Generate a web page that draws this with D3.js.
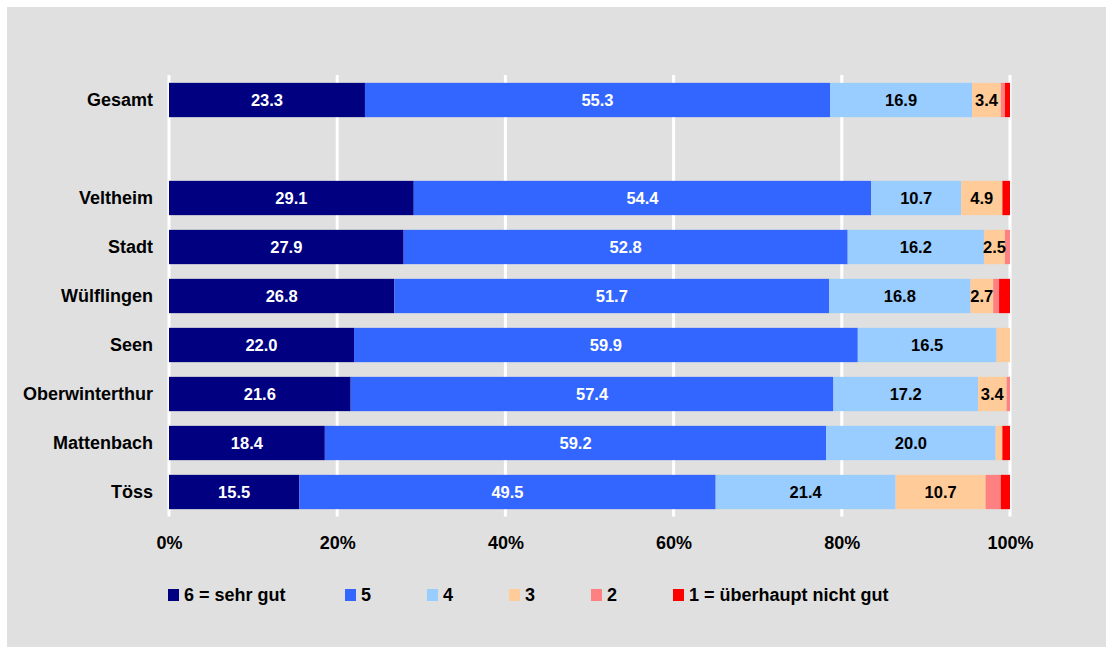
<!DOCTYPE html>
<html><head><meta charset="utf-8">
<script src="https://cdn.jsdelivr.net/npm/d3@7"></script>
<style>
html,body{margin:0;padding:0;background:#fff;}
svg{display:block;font-family:"Liberation Sans",Arial,sans-serif;font-weight:bold;}
</style></head>
<body>
<svg id="c" width="1106" height="647"></svg>
<script>
const categories = ["Gesamt", "", "Veltheim", "Stadt", "Wülflingen", "Seen", "Oberwinterthur", "Mattenbach", "Töss"];
const seriesNames = ["6 = sehr gut", "5", "4", "3", "2", "1 = überhaupt nicht gut"];
const colors = ["#000080", "#3366FF", "#99CCFF", "#FFCC99", "#FF8080", "#FF0000"];
const labelColors = ["#fff", "#fff", "#000", "#000", "#000", "#000"];
const s6 = [23.3, null, 29.1, 27.9, 26.8, 22.0, 21.6, 18.4, 15.5];
const s5 = [55.3, null, 54.4, 52.8, 51.7, 59.9, 57.4, 59.2, 49.5];
const s4 = [16.9, null, 10.7, 16.2, 16.8, 16.5, 17.2, 20.0, 21.4];
const s3 = [3.4, null, 4.9, 2.5, 2.7, 1.6, 3.4, 0.8, 10.7];
const s2 = [0.5, null, 0.0, 0.6, 0.7, 0.0, 0.4, 0.0, 1.8];
const s1 = [0.6, null, 0.9, 0.0, 1.3, 0.0, 0.0, 0.9, 1.1];
const tickValues = [0, 0.2, 0.4, 0.6, 0.8, 1.0];
const series = [s6, s5, s4, s3, s2, s1];

const svg = d3.select("#c");
svg.append("rect").attr("x", 7).attr("y", 7).attr("width", 1099).attr("height", 640).attr("fill", "#E0E0E0");

const x = d3.scaleLinear().domain([0, 1]).range([169, 1010]);
const y = d3.scaleBand().domain(categories).range([75.5, 516.5]).paddingInner(0.3).paddingOuter(0.15);

// gridlines
svg.append("g").selectAll("line").data(tickValues).join("line")
  .attr("x1", d => x(d)).attr("x2", d => x(d))
  .attr("y1", 75).attr("y2", 516.5)
  .attr("stroke", "#fff").attr("stroke-width", 3);

// stacked data (normalized to 100%)
const rows = categories.map((c, i) => {
  const vals = series.map(s => s[i]);
  if (vals[0] === null) return null;
  const total = d3.sum(vals);
  let acc = 0;
  return vals.map((v, k) => { const r = {cat: c, k, v, x0: acc / total, x1: (acc + v) / total}; acc += v; return r; });
}).filter(r => r);
const segs = rows.flat().filter(d => d.v > 0);

const g = svg.append("g");
g.selectAll("rect").data(segs).join("rect")
  .attr("x", d => x(d.x0)).attr("width", d => x(d.x1) - x(d.x0))
  .attr("y", d => y(d.cat)).attr("height", y.bandwidth())
  .attr("fill", d => colors[d.k]);

g.selectAll("text").data(segs.filter(d => d.v >= 2)).join("text")
  .attr("x", d => (x(d.x0) + x(d.x1)) / 2)
  .attr("y", d => y(d.cat) + y.bandwidth() / 2 + 6)
  .attr("text-anchor", "middle").attr("font-size", "16.5px")
  .attr("fill", d => labelColors[d.k])
  .text(d => d.v.toFixed(1));

// category labels
const yAxis = d3.axisLeft(y).tickSize(0).tickPadding(16);
const ya = svg.append("g").attr("transform", "translate(169,0)").call(yAxis);
ya.select(".domain").remove();
ya.selectAll("text").attr("font-size", "18px").attr("font-family", "Liberation Sans, Arial, sans-serif").attr("font-weight", "bold").attr("fill", "#000").attr("dy", "0.36em");

// x axis
const xAxis = d3.axisBottom(x).tickValues(tickValues).tickFormat(d3.format(".0%")).tickSize(0).tickPadding(20);
const xa = svg.append("g").attr("transform", "translate(0,516)").call(xAxis);
xa.select(".domain").remove();
xa.selectAll("text").attr("font-size", "18px").attr("font-family", "Liberation Sans, Arial, sans-serif").attr("font-weight", "bold").attr("fill", "#000");

// legend
const legendX = seriesNames.map((n, i) => i === 0 ? 168 : 345 + (i - 1) * 82);
const lg = svg.append("g").selectAll("g").data(seriesNames).join("g")
  .attr("transform", (d, i) => `translate(${legendX[i]},589)`);
lg.append("rect").attr("width", 11).attr("height", 12).attr("fill", (d, i) => colors[i]);
lg.append("text").attr("x", 16).attr("y", 12).attr("font-size", "18px").attr("fill", "#000").text(d => d);
</script>
</body></html>
